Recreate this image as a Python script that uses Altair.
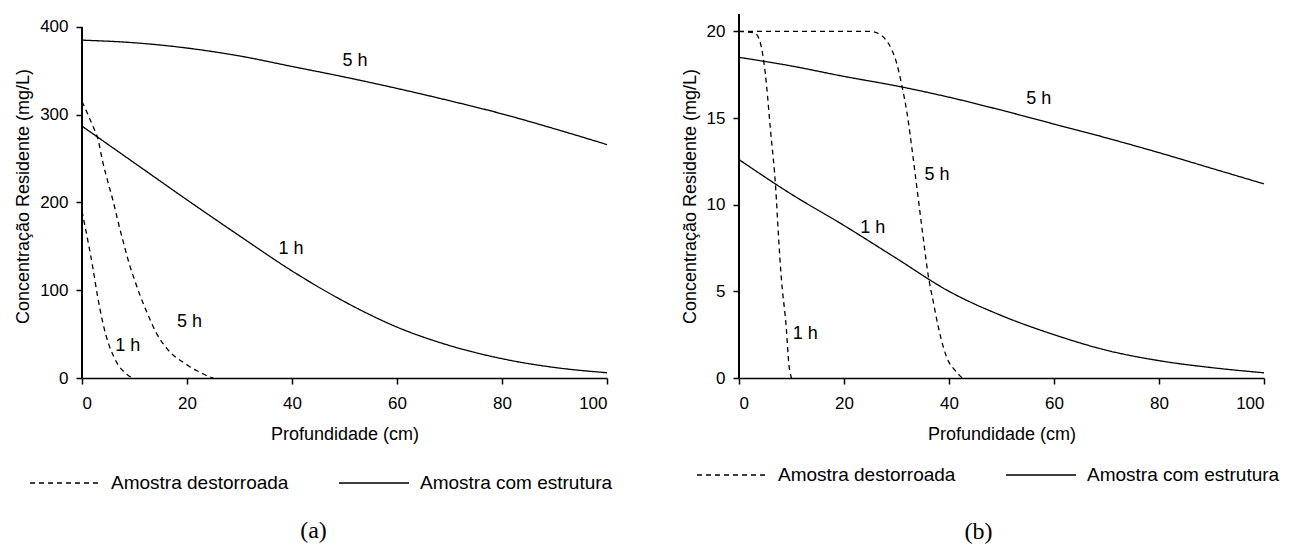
import altair as alt
import pandas as pd

# ---------------- Panel (a) ----------------
a_x_est = [0, 10, 20, 30, 40, 50, 60, 70, 80, 90, 100]
a_est_5h = [385, 382, 376, 367, 355, 343, 330, 316, 301, 284, 266]
a_est_1h = [287, 245, 203, 162, 122, 87, 58, 37, 22, 12, 6]
a_x_des_1h = [0, 1, 2, 3, 4, 5, 6, 7, 8, 9, 10]
a_des_1h = [190, 160, 128, 92, 62, 40, 25, 14, 7, 2, 0]
a_x_des_5h = list(range(0, 26))
a_des_5h = [315, 302, 288, 273, 245, 222, 200, 175, 152, 130, 112, 95, 80, 66, 53,
            43, 35, 28, 23, 19, 15, 11, 8, 5, 2, 0]
a_lbl_text = ["5 h", "1 h", "5 h", "1 h"]
a_lbl_x = [52, 39.8, 20.5, 8.7]
a_lbl_y = [361, 147, 64, 36]

# ---------------- Panel (b) ----------------
b_x_est = [0, 10, 20, 30, 40, 50, 60, 70, 80, 90, 100]
b_est_5h = [18.5, 18.0, 17.4, 16.85, 16.2, 15.45, 14.65, 13.85, 13.0, 12.1, 11.2]
b_est_1h = [12.6, 10.6, 8.8, 6.9, 5.0, 3.6, 2.5, 1.6, 1.0, 0.6, 0.3]
b_x_des_1h = [0, 3, 4, 5, 6, 7, 7.5, 8, 9, 9.5, 10]
b_des_1h = [20, 19.9, 19.4, 17.6, 14.3, 10.9, 8.3, 6.0, 2.9, 0.8, 0]
b_x_des_5h = [0, 25, 27, 28, 29, 30, 31, 32, 33, 34, 35, 36, 37, 38, 39, 40, 41, 42, 42.5]
b_des_5h = [20, 20, 19.8, 19.5, 19.0, 18.2, 16.9, 15.3, 13.1, 10.7, 8.3, 6.0, 4.4, 2.9,
            1.7, 0.9, 0.5, 0.15, 0]
b_lbl_text = ["5 h", "5 h", "1 h", "1 h"]
b_lbl_x = [57.1, 37.7, 25.5, 12.6]
b_lbl_y = [16.1, 11.7, 8.65, 2.55]

TIPOS = ["Amostra destorroada", "Amostra com estrutura"]
FONT = "Liberation Sans"


def long_df(parts):
    rows = []
    for tipo, serie, xs, ys in parts:
        for x, y in zip(xs, ys):
            rows.append({"x": x, "y": y, "tipo": tipo, "serie": tipo + serie})
    return pd.DataFrame(rows)


def panel(df, lbl, ydomain, yvalues, ytop, title, legend_x, legend_y, t_off, t_dx):
    xenc = alt.X("x:Q", scale=alt.Scale(domain=[0, 100], nice=False),
                 axis=alt.Axis(values=[0, 20, 40, 60, 80, 100], title="Profundidade (cm)",
                               labelPadding=11, titlePadding=14))
    yenc = alt.Y("y:Q", scale=alt.Scale(domain=ydomain, nice=False),
                 axis=alt.Axis(values=yvalues, title="Concentração Residente (mg/L)",
                               labelPadding=8, titlePadding=7, domain=False))
    lines = alt.Chart(df).mark_line(color="black", strokeWidth=1.3,
                                    interpolate="monotone").encode(
        x=xenc, y=yenc,
        strokeDash=alt.StrokeDash(
            "tipo:N",
            scale=alt.Scale(domain=TIPOS, range=[[5, 4], [1, 0]]),
            legend=alt.Legend(title=None, orient="none", legendX=legend_x, legendY=legend_y,
                              direction="horizontal", symbolType="stroke", symbolSize=4900,
                              symbolStrokeWidth=1.3, symbolStrokeColor="black",
                              labelFont=FONT, labelFontSize=19, labelColor="black",
                              labelOffset=10, columnPadding=47, labelLimit=400),
        ),
        detail="serie:N",
    )
    axis_line = alt.Chart(df).mark_rule(color="black", strokeWidth=1.5).encode(
        x=alt.datum(0), y=alt.datum(0), y2=alt.datum(ytop)
    )
    texts = alt.Chart(lbl).mark_text(font=FONT, fontSize=18, color="black").encode(
        x="x:Q", y="y:Q", text="t:N"
    )
    return alt.layer(lines, axis_line, texts).properties(
        width=525, height=364,
        title=alt.TitleParams(title, orient="bottom", font="Liberation Serif", fontSize=24,
                              fontWeight="normal", color="black", offset=t_off, dx=t_dx),
    )


df_a = long_df([
    (TIPOS[1], "5h", a_x_est, a_est_5h),
    (TIPOS[1], "1h", a_x_est, a_est_1h),
    (TIPOS[0], "1h", a_x_des_1h, a_des_1h),
    (TIPOS[0], "5h", a_x_des_5h, a_des_5h),
])
df_b = long_df([
    (TIPOS[1], "5h", b_x_est, b_est_5h),
    (TIPOS[1], "1h", b_x_est, b_est_1h),
    (TIPOS[0], "1h", b_x_des_1h, b_des_1h),
    (TIPOS[0], "5h", b_x_des_5h, b_des_5h),
])
lbl_a = pd.DataFrame({"x": a_lbl_x, "y": a_lbl_y, "t": a_lbl_text})
lbl_b = pd.DataFrame({"x": b_lbl_x, "y": b_lbl_y, "t": b_lbl_text})

pa = panel(df_a, lbl_a, [0, 414.8], [0, 100, 200, 300, 400], 400, "(a)", -53, 433, 26, -31)
pb = panel(df_b, lbl_b, [0, 21.0], [0, 5, 10, 15, 20], 21.0, "(b)", -43, 425, 35, -23)

chart = alt.hconcat(pa, pb, spacing=68).resolve_scale(
    strokeDash="independent"
).resolve_legend(strokeDash="independent").properties(
    padding={"left": 6, "top": 5, "right": 5, "bottom": 5},
    background="white",
).configure_view(stroke=None).configure_axis(
    grid=False, domainColor="black", tickColor="black", labelColor="black",
    titleColor="black", labelFont=FONT, titleFont=FONT, titleFontWeight="normal",
    labelFontSize=17, titleFontSize=18, tickSize=6, domainWidth=1.5, tickWidth=1.5,
)

chart.save("out.html", embed_options={"renderer": "svg", "actions": False})
